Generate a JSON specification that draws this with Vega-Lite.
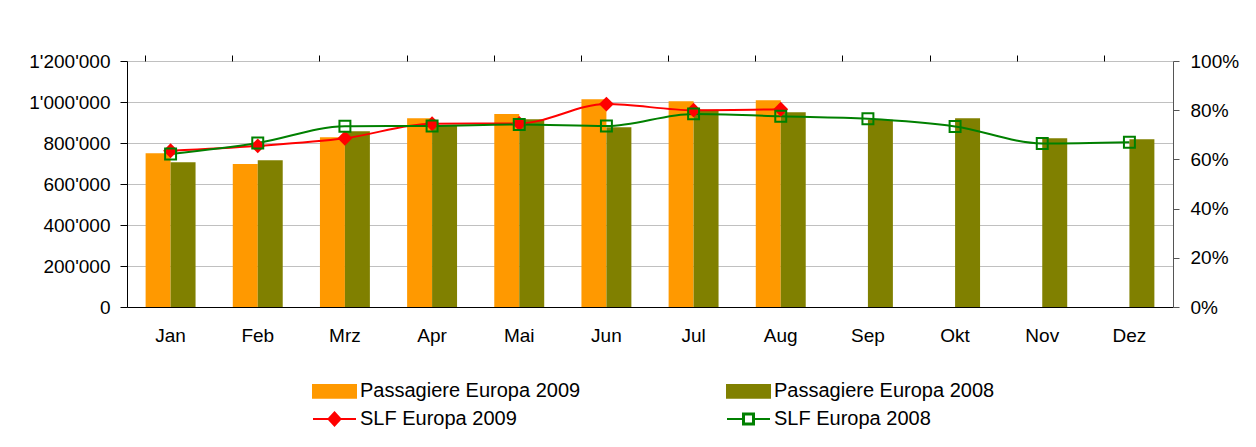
{
  "$schema": "https://vega.github.io/schema/vega-lite/v6.json",
  "width": 1046,
  "height": 246,
  "autosize": {"type": "none"},
  "padding": {"left": 127, "top": 61, "right": 83, "bottom": 140},
  "background": "white",
  "datasets": {
    "pax": [
      {"month": "Jan", "series": "Passagiere Europa 2009", "value": 750000},
      {"month": "Jan", "series": "Passagiere Europa 2008", "value": 706000},
      {"month": "Feb", "series": "Passagiere Europa 2009", "value": 697000},
      {"month": "Feb", "series": "Passagiere Europa 2008", "value": 716000},
      {"month": "Mrz", "series": "Passagiere Europa 2009", "value": 828000},
      {"month": "Mrz", "series": "Passagiere Europa 2008", "value": 857000},
      {"month": "Apr", "series": "Passagiere Europa 2009", "value": 921000},
      {"month": "Apr", "series": "Passagiere Europa 2008", "value": 888000},
      {"month": "Mai", "series": "Passagiere Europa 2009", "value": 942000},
      {"month": "Mai", "series": "Passagiere Europa 2008", "value": 916000},
      {"month": "Jun", "series": "Passagiere Europa 2009", "value": 1013000},
      {"month": "Jun", "series": "Passagiere Europa 2008", "value": 877000},
      {"month": "Jul", "series": "Passagiere Europa 2009", "value": 1004000},
      {"month": "Jul", "series": "Passagiere Europa 2008", "value": 962000},
      {"month": "Aug", "series": "Passagiere Europa 2009", "value": 1008000},
      {"month": "Aug", "series": "Passagiere Europa 2008", "value": 950000},
      {"month": "Sep", "series": "Passagiere Europa 2008", "value": 913000},
      {"month": "Okt", "series": "Passagiere Europa 2008", "value": 921000},
      {"month": "Nov", "series": "Passagiere Europa 2008", "value": 823000},
      {"month": "Dez", "series": "Passagiere Europa 2008", "value": 818000}
    ],
    "slf": [
      {"month": "Jan", "series": "SLF Europa 2009", "slf": 0.635},
      {"month": "Feb", "series": "SLF Europa 2009", "slf": 0.655},
      {"month": "Mrz", "series": "SLF Europa 2009", "slf": 0.686},
      {"month": "Apr", "series": "SLF Europa 2009", "slf": 0.745},
      {"month": "Mai", "series": "SLF Europa 2009", "slf": 0.746},
      {"month": "Jun", "series": "SLF Europa 2009", "slf": 0.825},
      {"month": "Jul", "series": "SLF Europa 2009", "slf": 0.800},
      {"month": "Aug", "series": "SLF Europa 2009", "slf": 0.804},
      {"month": "Jan", "series": "SLF Europa 2008", "slf": 0.622},
      {"month": "Feb", "series": "SLF Europa 2008", "slf": 0.667},
      {"month": "Mrz", "series": "SLF Europa 2008", "slf": 0.735},
      {"month": "Apr", "series": "SLF Europa 2008", "slf": 0.736},
      {"month": "Mai", "series": "SLF Europa 2008", "slf": 0.742},
      {"month": "Jun", "series": "SLF Europa 2008", "slf": 0.736},
      {"month": "Jul", "series": "SLF Europa 2008", "slf": 0.785},
      {"month": "Aug", "series": "SLF Europa 2008", "slf": 0.775},
      {"month": "Sep", "series": "SLF Europa 2008", "slf": 0.765},
      {"month": "Okt", "series": "SLF Europa 2008", "slf": 0.734},
      {"month": "Nov", "series": "SLF Europa 2008", "slf": 0.665},
      {"month": "Dez", "series": "SLF Europa 2008", "slf": 0.670}
    ]
  },
  "config": {
    "view": {"stroke": null},
    "font": "Liberation Sans",
    "locale": {"number": {"decimal": ".", "thousands": "'", "grouping": [3], "currency": ["", ""]}},
    "axis": {"labelFont": "Liberation Sans", "labelFontSize": 19, "labelColor": "#000"}
  },
  "layer": [
    {
      "data": {"name": "pax"},
      "mark": {"type": "bar"},
      "encoding": {
        "x": {
          "field": "month", "type": "nominal",
          "scale": {"domain": ["Jan", "Feb", "Mrz", "Apr", "Mai", "Jun", "Jul", "Aug", "Sep", "Okt", "Nov", "Dez"], "paddingInner": 0.427, "paddingOuter": 0.2135},
          "axis": {"title": null, "ticks": false, "domainColor": "#000", "labelPadding": 19, "labelAngle": 0, "grid": false}
        },
        "xOffset": {"field": "series", "type": "nominal", "scale": {"domain": ["Passagiere Europa 2009", "Passagiere Europa 2008"], "paddingInner": 0, "paddingOuter": 0}},
        "y": {
          "field": "value", "type": "quantitative",
          "scale": {"domain": [0, 1200000], "nice": false},
          "axis": {"title": null, "values": [0, 200000, 400000, 600000, 800000, 1000000, 1200000], "format": ",d", "grid": true, "gridColor": "#c0c0c0", "tickSize": 7, "labelPadding": 10, "domainColor": "#000", "tickColor": "#000"}
        },
        "color": {
          "field": "series", "type": "nominal",
          "scale": {"domain": ["Passagiere Europa 2009", "Passagiere Europa 2008", "SLF Europa 2009", "SLF Europa 2008"], "range": ["#FF9900", "#808000", "#FF0000", "#008000"]},
          "legend": {
            "orient": "none", "legendX": 181, "legendY": 320, "title": null, "columns": 2, "direction": "horizontal",
            "labelFont": "Liberation Sans", "labelFontSize": 20, "labelColor": "#000", "labelLimit": 400,
            "symbolSize": 100, "labelOffset": 32, "columnPadding": 141, "rowPadding": 6,
            "encode": {
              "symbols": {
                "update": {
                  "shape": [
                    {"test": "datum.value === 'SLF Europa 2009'", "value": "M-1,0H7.6M3.3,-1.3L4.5,0L3.3,1.3L2.1,0Z"},
                    {"test": "datum.value === 'SLF Europa 2008'", "value": "M-1,0H2.2M4.4,0H7.6M2.2,-1.1H4.4V1.1H2.2ZM2.4,-0.9V0.9H4.2V-0.9Z"},
                    {"value": "M-1,-1.27H7.6V1.27H-1Z"}
                  ],
                  "fill": [
                    {"test": "datum.value === 'SLF Europa 2009'", "value": "#FF0000"},
                    {"test": "datum.value === 'SLF Europa 2008'", "value": "#008000"},
                    {"test": "datum.value === 'Passagiere Europa 2009'", "value": "#FF9900"},
                    {"value": "#808000"}
                  ],
                  "stroke": [
                    {"test": "datum.value === 'SLF Europa 2009'", "value": "#FF0000"},
                    {"test": "datum.value === 'SLF Europa 2008'", "value": "#008000"},
                    {"value": "transparent"}
                  ],
                  "strokeWidth": {"value": 2},
                  "opacity": {"value": 1}
                }
              }
            }
          }
        }
      }
    },
    {
      "layer": [
        {
          "data": {"name": "slf"},
          "mark": {"type": "line", "interpolate": "monotone", "strokeWidth": 2},
          "encoding": {
            "x": {"field": "month", "type": "nominal", "axis": {"title": null, "labels": false, "ticks": true, "bandPosition": 0, "tickSize": 6, "domain": false, "tickColor": "#000", "grid": false}},
            "y": {
              "field": "slf", "type": "quantitative",
              "scale": {"domain": [0, 1], "nice": false},
              "axis": {"orient": "right", "title": null, "values": [0, 0.2, 0.4, 0.6, 0.8, 1], "format": ".0%", "grid": false, "tickSize": 6, "labelPadding": 11, "domainColor": "#555", "tickColor": "#555"}
            },
            "color": {"field": "series", "type": "nominal"}
          }
        },
        {
          "data": {"name": "slf"},
          "transform": [{"filter": "datum.series === 'SLF Europa 2009'"}],
          "mark": {"type": "point", "shape": "diamond", "filled": true, "size": 220, "color": "#FF0000", "opacity": 1},
          "encoding": {
            "x": {"field": "month", "type": "nominal"},
            "y": {"field": "slf", "type": "quantitative"}
          }
        },
        {
          "data": {"name": "slf"},
          "transform": [{"filter": "datum.series === 'SLF Europa 2008'"}],
          "mark": {"type": "point", "shape": "square", "filled": false, "size": 120, "color": "#008000", "strokeWidth": 2, "opacity": 1},
          "encoding": {
            "x": {"field": "month", "type": "nominal"},
            "y": {"field": "slf", "type": "quantitative"}
          }
        }
      ]
    }
  ],
  "resolve": {"scale": {"y": "independent"}, "axis": {"x": "independent"}}
}
